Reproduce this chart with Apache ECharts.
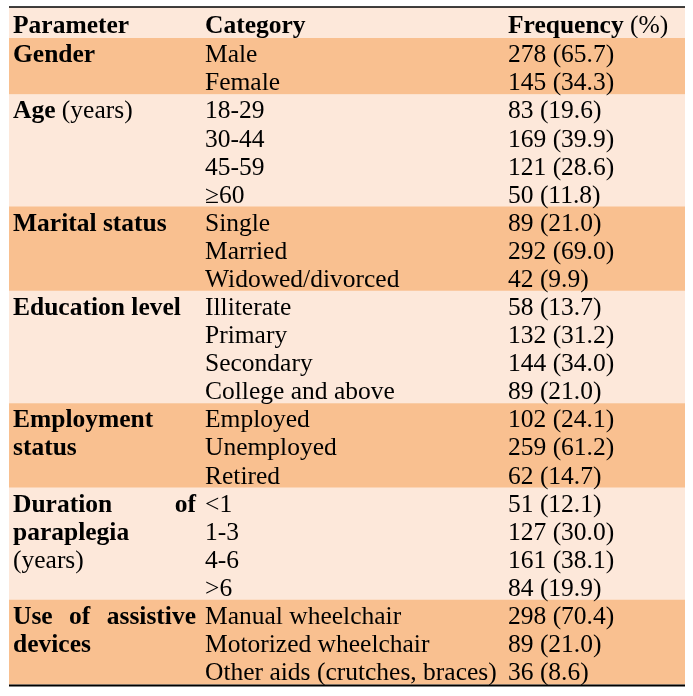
<!DOCTYPE html>
<html>
<head>
<meta charset="utf-8">
<script src="https://cdn.jsdelivr.net/npm/echarts@6/dist/echarts.min.js"></script>
<style>
  html, body { margin: 0; background: #fff; }
  #main { width: 693px; height: 696px; }
</style>
</head>
<body>
<div id="main"></div>
<script>
// table content
var headers = ['Parameter', 'Category', 'Frequency (%)'];
var paramLines = [
  ['Gender'],
  ['Age (years)'],
  ['Marital status'],
  ['Education level'],
  ['Employment', 'status'],
  ['Duration of', 'paraplegia', '(years)'],
  ['Use of assistive', 'devices']
];
var categories = [
  ['Male', 'Female'],
  ['18-29', '30-44', '45-59', '≥60'],
  ['Single', 'Married', 'Widowed/divorced'],
  ['Illiterate', 'Primary', 'Secondary', 'College and above'],
  ['Employed', 'Unemployed', 'Retired'],
  ['<1', '1-3', '4-6', '>6'],
  ['Manual wheelchair', 'Motorized wheelchair', 'Other aids (crutches, braces)']
];
var counts = [
  [278, 145],
  [83, 169, 121, 50],
  [89, 292, 42],
  [58, 132, 144, 89],
  [102, 259, 62],
  [51, 127, 161, 84],
  [298, 89, 36]
];
var percents = [
  [65.7, 34.3],
  [19.6, 39.9, 28.6, 11.8],
  [21.0, 69.0, 9.9],
  [13.7, 31.2, 34.0, 21.0],
  [24.1, 61.2, 14.7],
  [12.1, 30.0, 38.1, 19.9],
  [70.4, 21.0, 8.6]
];

var DARK = '#F9C090';
var LIGHT = '#FDE8DA';
var FAMILY = 'Liberation Serif';
var SIZE = 25.5;

// rows: [x, rowIndex, groupIndex, itemIndex]
var rows = [];
var rowNames = [];
categories.forEach(function (list, g) {
  list.forEach(function (c, i) {
    rows.push([0, rowNames.length, g, i]);
    rowNames.push(c);
  });
});

var ctx = document.createElement('canvas').getContext('2d');
function textW(t, bold) {
  ctx.font = (bold ? 'bold ' : '') + SIZE + 'px "' + FAMILY + '"';
  return ctx.measureText(t).width;
}
function textStyle(t, bold) {
  return {
    text: t,
    fontFamily: FAMILY,
    fontSize: SIZE,
    fontWeight: bold ? 'bold' : 'normal',
    fill: '#000',
    textAlign: 'left',
    textVerticalAlign: 'middle'
  };
}

// words in parentheses are regular, the rest bold
function wordEls(line, x, y, justifyTo) {
  var words = line.split(' ');
  var els = [];
  var bolds = words.map(function (w) { return w.charAt(0) !== '('; });
  var widths = words.map(function (w, k) { return textW(w, bolds[k]); });
  var gap;
  if (justifyTo && words.length > 1) {
    var sum = widths.reduce(function (a, b) { return a + b; }, 0);
    gap = (justifyTo - x - sum) / (words.length - 1);
  }
  var cx = x;
  words.forEach(function (w, k) {
    var st = textStyle(w, bolds[k]);
    st.x = cx; st.y = y;
    els.push({ type: 'text', z2: 10, style: st });
    cx += widths[k] + (gap !== undefined ? gap : textW(' ', bolds[k]));
  });
  return els;
}

function renderItem(params, api) {
  var row = api.value(1), g = api.value(2), i = api.value(3);
  var c = api.coord([0, row]);
  var rowH = api.size([0, 1])[1];
  var top = c[1] - rowH / 2;
  var ty = c[1] + 3.5;
  var x = function (v) { return api.coord([v, row])[0]; };
  var children = [];
  if (i === 0) {
    children.push({
      type: 'rect', z2: 0,
      shape: { x: x(0), y: top, width: api.size([676, 0])[0], height: rowH * categories[g].length + 0.5 },
      style: { fill: g % 2 === 0 ? DARK : LIGHT }
    });
    var lines = paramLines[g];
    lines.forEach(function (ln, k) {
      var justify = k < lines.length - 1 ? x(187) : null;
      children = children.concat(wordEls(ln, x(4), ty + k * rowH, justify));
    });
  }
  var s1 = textStyle(categories[g][i], false);
  s1.x = x(196); s1.y = ty;
  children.push({ type: 'text', z2: 10, style: s1 });
  var s2 = textStyle(counts[g][i] + ' (' + percents[g][i].toFixed(1) + ')', false);
  s2.x = x(499); s2.y = ty;
  children.push({ type: 'text', z2: 10, style: s2 });
  return { type: 'group', children: children };
}

var chart = echarts.init(document.getElementById('main'));
var headerY = 26;
var option = {
  animation: false,
  grid: { left: 9, right: 8, top: 38, bottom: 12 },
  xAxis: { type: 'value', min: 0, max: 676, show: false },
  yAxis: { type: 'category', data: rowNames, inverse: true, show: false },
  graphic: [
    { type: 'rect', shape: { x: 9, y: 7, width: 676, height: 31 }, style: { fill: LIGHT }, z: 0 },
    {
      type: 'group', z: 5,
      children: [].concat(
        wordEls(headers[0], 13, headerY, null),
        wordEls(headers[1], 205, headerY, null),
        wordEls(headers[2], 508, headerY, null)
      )
    },
    { type: 'line', shape: { x1: 9, y1: 7, x2: 685, y2: 7 }, style: { stroke: '#000', lineWidth: 1.5 }, z: 10 },
    { type: 'line', shape: { x1: 9, y1: 685.5, x2: 685, y2: 685.5 }, style: { stroke: '#000', lineWidth: 2 }, z: 10 }
  ],
  series: [{
    type: 'custom',
    clip: false,
    renderItem: renderItem,
    encode: { x: 0, y: 1 },
    data: rows
  }]
};
chart.setOption(option);
</script>
</body>
</html>
